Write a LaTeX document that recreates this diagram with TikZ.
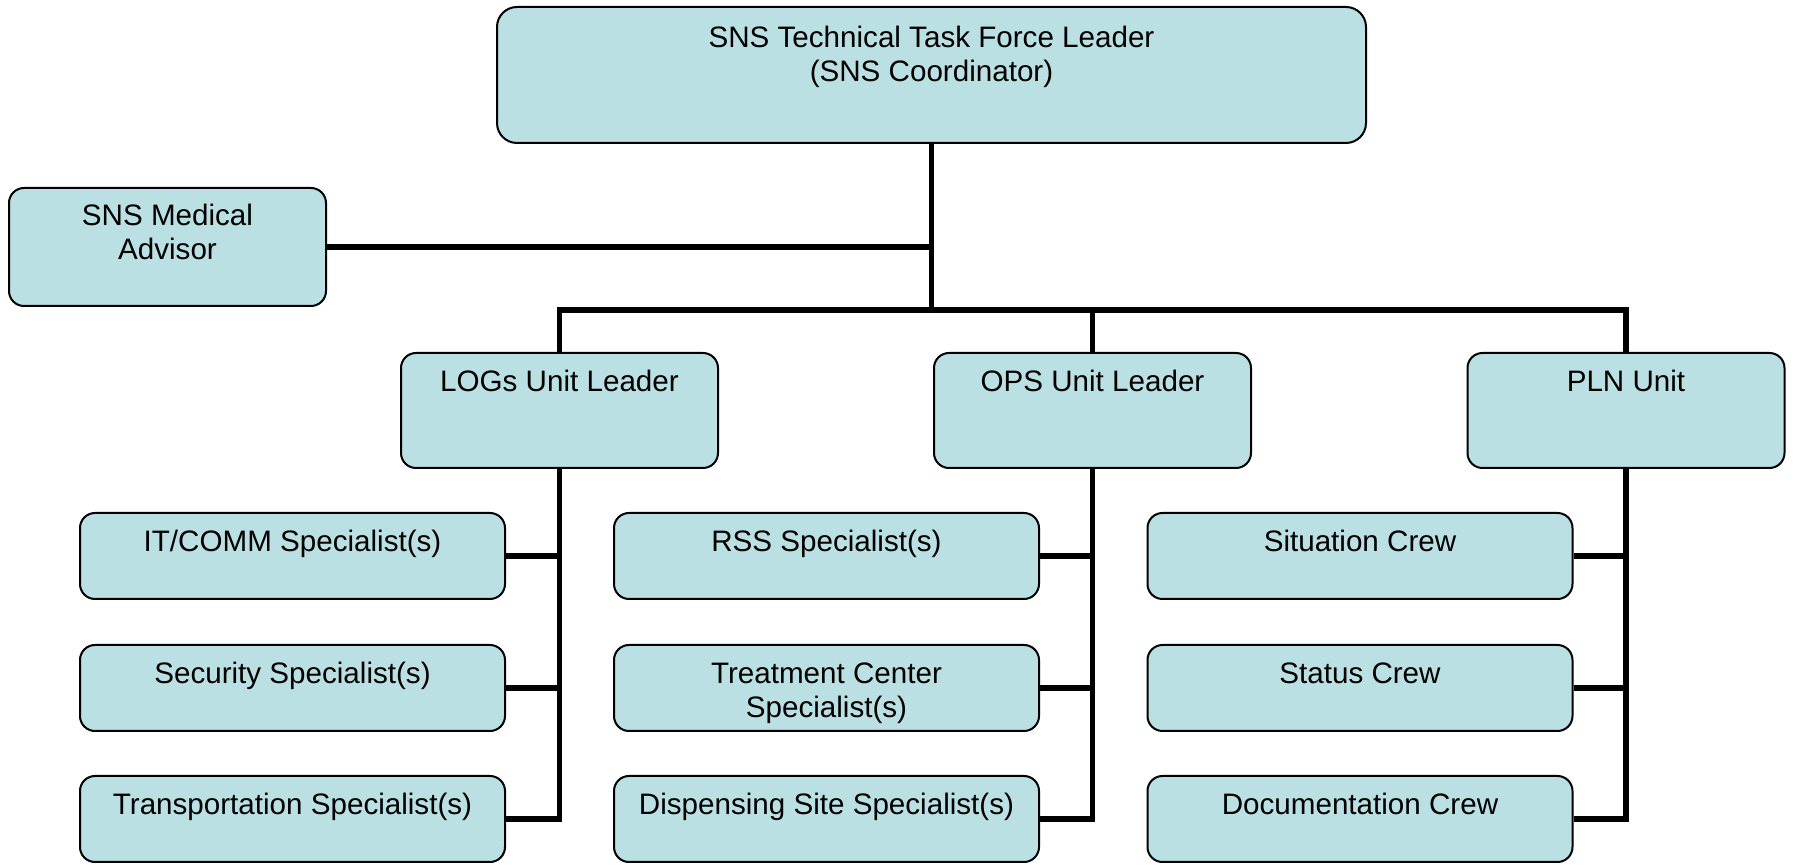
\documentclass[tikz,border=0pt]{standalone}
\usepackage{fontspec}
\setmainfont{Liberation Sans}
\usepackage{xcolor}
\usetikzlibrary{positioning,calc}
\definecolor{snsBlue}{RGB}{187,224,227}
\newcommand{\boxfont}{\fontsize{14.8}{17}\selectfont}

\begin{document}
\begin{tikzpicture}[x=0.5pt,y=-0.5pt,
  box/.style={rectangle,rounded corners=7.5pt,draw=black,line width=1pt,
              fill=snsBlue,align=center,font=\boxfont,
              inner xsep=2pt,inner ysep=9pt,text height=10.4pt},
  twoline/.style={text height=27.4pt},
  lead/.style={box,minimum width=158.5pt,text depth=29.1pt},
  crew/.style={box,minimum width=212.5pt,text depth=14.6pt},
  conn/.style={line width=2.75pt}
]
\useasboundingbox (0,0) rectangle (1796,865);
% Task force leader
\node[box,twoline,rounded corners=10pt,minimum width=434.5pt,inner ysep=10pt,
      text depth=20.6pt] (leader) at (931.5,75)
  {SNS Technical Task Force Leader\\(SNS Coordinator)};
\node[box,twoline,minimum width=158.5pt,inner ysep=8.5pt,text depth=14.6pt]
  (medical) at (167.5,247) {SNS Medical\\Advisor};
% Unit leaders
\node[lead] (logs) at (559.5,410.5) {LOGs Unit Leader};
\node[lead] (ops)  at (1092.5,410.5) {OPS Unit Leader};
\node[lead] (pln)  at (1626,410.5) {PLN Unit};
% LOGs specialists
\node[crew] (itcomm)    at (292.5,556) {IT/COMM Specialist(s)};
\node[crew] (security)  at (292.5,688) {Security Specialist(s)};
\node[crew] (transport) at (292.5,819) {Transportation Specialist(s)};
% OPS specialists
\node[crew] (rss)        at (826.5,556) {RSS Specialist(s)};
\node[crew,inner ysep=6.6pt,text height=29.8pt,text depth=0pt] (treatment)
  at (826.5,688) {Treatment Center\\Specialist(s)};
\node[crew] (dispensing) at (826.5,819) {Dispensing Site Specialist(s)};
% PLN crews
\node[crew] (situation)     at (1360,556) {Situation Crew};
\node[crew] (status)        at (1360,688) {Status Crew};
\node[crew] (documentation) at (1360,819) {Documentation Crew};
% Connectors
\coordinate (bus) at (931.5,310);
\draw[conn] (leader.south) -- (bus);
\draw[conn] (medical.east) -- (medical.east -| leader.south);
\draw[conn] (logs.north) |- (bus) -| (pln.north);
\draw[conn] (ops.north) -- (ops.north |- bus);
\foreach \c/\p in {itcomm/logs,security/logs,rss/ops,treatment/ops,
                   situation/pln,status/pln}
  \draw[conn] (\c.east) -- (\c.east -| \p.south);
\foreach \c/\p in {transport/logs,dispensing/ops,documentation/pln}
  \draw[conn] (\p.south) |- (\c.east);
\end{tikzpicture}
\end{document}
